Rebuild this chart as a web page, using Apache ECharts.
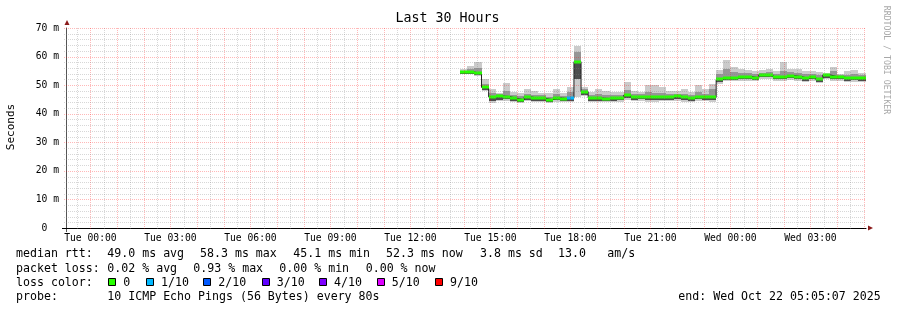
<!DOCTYPE html>
<html><head><meta charset="utf-8">
<script src="https://cdn.jsdelivr.net/npm/echarts@6/dist/echarts.min.js"></script>
<style>html,body{margin:0;padding:0;background:#fff}#c{width:897px;height:310px}</style>
</head><body><div id="c"></div>
<script>
// ---- time frame (hours relative to Tue 00:00) ----
const axisStart = -(54 + 53 / 60) / 60;      // Mon 23:05:07
const axisEnd = 29 + 5 / 60 + 7 / 3600;      // Wed 05:05:07
const firstSlot = 13 + 52 / 60;              // Tue 13:52, first data step
const slotHours = 16 / 60;                   // 960 s RRD step

// ---- data (ms) ----
const medianRtt = [54.6,54.6,54.1,49.2,45.9,46.2,46.0,45.4,44.9,45.9, 45.4,45.4,44.9,45.6,45.3,45.4,58.2,47.7,45.5,45.5, 45.3,45.4,45.6,46.5,45.7,46.0,45.7,45.7,45.7,45.7, 46.2,45.7,45.4,45.9,45.7,45.7,52.0,52.6,52.6,53.0, 53.0,52.6,53.6,53.6,52.8,53.0,53.3,53.0,52.4,52.8, 52.0,53.6,53.0,52.8,52.4,52.6,52.4];
const smokeMax = [55.5,56.7,58.1,52.2,48.6,47.4,50.9,47.7,47.4,48.6, 47.9,47.4,47.2,48.6,47.2,49.5,63.8,49.5,47.5,48.5, 47.9,47.7,47.5,51.0,47.9,47.7,50.0,50.0,49.5,47.9, 48.0,48.5,47.7,50.0,48.5,50.4,55.3,58.8,56.2,55.6, 55.3,55.0,55.3,55.6,55.0,58.1,55.6,55.6,55.0,55.0, 54.5,54.2,56.2,54.0,54.8,55.3,54.2];
const smokeHiMid = [55.0,55.5,56.0,50.5,47.4,46.9,48.0,46.6,46.2,47.0, 46.6,46.4,46.0,47.0,46.3,47.5,61.5,48.5,46.5,47.0, 46.5,46.5,46.5,48.3,46.8,46.8,47.5,47.3,47.2,46.8, 47.0,47.0,46.5,47.5,47.0,48.5,53.8,55.5,54.5,54.3, 54.2,54.0,54.4,54.6,54.0,55.0,54.5,54.3,53.8,54.0, 53.5,54.0,54.8,53.6,53.6,54.0,53.5];
const smokeLoMid = [54.0,54.0,53.4,48.4,44.5,44.9,45.0,44.6,44.2,44.8, 44.6,44.6,44.1,44.7,44.5,44.6,52.0,46.6,44.6,44.6, 44.4,44.5,44.7,45.4,44.8,45.0,44.8,44.8,44.8,44.8, 45.2,44.8,44.5,45.0,44.8,44.8,51.0,51.8,51.8,52.2, 52.2,51.8,52.8,52.8,52.0,52.2,52.5,52.2,51.6,52.0, 51.2,52.6,52.2,52.0,51.6,51.8,51.6];
const smokeMin = [53.8,53.8,53.1,47.8,43.9,44.4,44.5,44.1,43.8,44.3, 44.1,44.1,43.7,44.2,44.1,44.1,46.0,46.1,44.1,44.1, 44.0,44.1,44.2,44.8,44.3,44.5,44.2,44.2,44.3,44.3, 44.6,44.2,44.0,44.4,44.3,44.1,50.3,51.3,51.3,51.6, 51.6,51.3,52.2,52.2,51.4,51.6,51.8,51.6,51.0,51.4, 50.6,52.0,51.6,51.4,51.0,51.2,51.0];
const lossTenths = [0,0,0,0,0,0,0,0,0,0, 0,0,0,0,0,1,0,0,0,0, 0,0,0,0,0,0,0,0,0,0, 0,0,0,0,0,0,0,0,0,0, 0,0,0,0,0,0,0,0,0,0, 0,0,0,0,0,0,0];

// ---- ticks / labels ----
const xTickHours = [0, 3, 6, 9, 12, 15, 18, 21, 24, 27];
const xTickLabels = ['Tue 00:00','Tue 03:00','Tue 06:00','Tue 09:00','Tue 12:00','Tue 15:00','Tue 18:00','Tue 21:00','Wed 00:00','Wed 03:00'];
const yTickLabels = ['0  ','10 m','20 m','30 m','40 m','50 m','60 m','70 m'];
const lossLegendLabels = ['0','1/10','2/10','3/10','4/10','5/10','9/10'];
const lossLegendColors = ['#26ff00','#00b8ff','#0059ff','#5e00ff','#7e00ff','#dd00ff','#ff0000'];
const lossColorByTenths = {0:'#26ff00',1:'#00b8ff',2:'#0059ff',3:'#5e00ff',4:'#7e00ff',5:'#dd00ff',9:'#ff0000'};

const titleText = 'Last 30 Hours';
const yAxisTitle = 'Seconds';
const watermark = 'RRDTOOL / TOBI OETIKER';
const line1 = ['median rtt:','49.0 ms avg','58.3 ms max','45.1 ms min','52.3 ms now','3.8 ms sd','13.0','am/s'];
const line2 = ['packet loss:','0.02 % avg','0.93 % max','0.00 % min','0.00 % now'];
const line4 = ['probe:','10 ICMP Echo Pings (56 Bytes) every 80s'];
const endText = 'end: Wed Oct 22 05:05:07 2025';

// ---- build series data ----
const smokeData = medianRtt.map((m, i) => [firstSlot + i * slotHours, firstSlot + (i + 1) * slotHours,
  smokeMin[i], smokeLoMid[i], m, smokeHiMid[i], smokeMax[i], lossTenths[i]]);
const stepData = medianRtt.map((m, i) => [firstSlot + i * slotHours, m]);
stepData.push([firstSlot + medianRtt.length * slotHours, medianRtt[medianRtt.length - 1]]);

const vGrid = [];
for (let h = Math.ceil(axisStart * 2) / 2; h <= axisEnd; h += 0.5) vGrid.push([h, 0]);
const hGrid = [];
for (let v = 2; v <= 70; v += 2) hGrid.push([axisStart, v]);

const FONT = "'DejaVu Sans Mono', monospace";
const RED = 'rgba(255,0,0,0.28)';
const GREY = 'rgba(130,130,130,0.32)';

function smokeItem(params, api) {
  const t0 = api.value(0), t1 = api.value(1);
  const xs = Math.round(api.coord([t0, 0])[0]), xe = Math.round(api.coord([t1, 0])[0]);
  const py = v => Math.round(api.coord([t0, v])[1]);
  const band = (lo, hi, fill) => ({ type: 'rect', shape: { x: xs, y: py(hi), width: xe - xs, height: py(lo) - py(hi) }, style: { fill } });
  return { type: 'group', children: [
    band(api.value(2), api.value(6), '#cbcbcb'),
    band(api.value(3), api.value(5), '#969696'),
    band(api.value(3), api.value(4), '#4e4e4e')
  ] };
}
function medianItem(params, api) {
  const t0 = api.value(0), t1 = api.value(1);
  const xs = Math.round(api.coord([t0, 0])[0]), xe = Math.round(api.coord([t1, 0])[0]);
  const y = Math.round(api.coord([t0, api.value(4)])[1]);
  return { type: 'rect', shape: { x: xs, y: y - 1.5, width: xe - xs, height: 3 }, style: { fill: lossColorByTenths[api.value(7)] } };
}
function vGridItem(params, api) {
  const cs = params.coordSys;
  const h = api.value(0);
  const x = Math.round(api.coord([h, 0])[0]) + 0.5;
  const major = Math.abs(h - Math.round(h)) < 1e-6;
  return { type: 'line', shape: { x1: x, y1: cs.y, x2: x, y2: cs.y + cs.height + 2 }, style: { stroke: major ? RED : GREY, lineWidth: 1, lineDash: [1, 1] } };
}
function hGridItem(params, api) {
  const cs = params.coordSys;
  const v = api.value(1);
  const y = Math.round(api.coord([0, v])[1]) + 0.5;
  const major = v % 10 === 0;
  return { type: 'line', shape: { x1: cs.x - 2, y1: y, x2: cs.x + cs.width, y2: y }, style: { stroke: major ? RED : GREY, lineWidth: 1, lineDash: [1, 1] } };
}

const graphic = [];
const txt = (text, x, y, opt = {}) => graphic.push({ type: 'text', x, y, rotation: opt.rotation || 0, silent: true,
  style: { text, font: (opt.size || 11.6) + 'px ' + FONT, fill: opt.color || '#000', align: opt.align || 'left', verticalAlign: 'middle' } });
txt(titleText, 447.5, 19, { size: 13.3, align: 'center' });
txt(yAxisTitle, 11, 127, { size: 11, align: 'center', rotation: Math.PI / 2 });
txt(watermark, 886, 60, { size: 8.2, align: 'center', rotation: -Math.PI / 2, color: '#a8a8a8' });
const l1x = [16, 107.3, 200, 293.3, 386, 480, 558, 607.3];
line1.forEach((s, i) => txt(s, l1x[i], 254));
const l2x = [16, 107.3, 193.3, 279.3, 365.7];
line2.forEach((s, i) => txt(s, l2x[i], 268.5));
txt('loss color:', 16, 282.5);
const boxX = [108.3, 146, 203.3, 261.7, 319, 376.7, 435];
lossLegendLabels.forEach((s, i) => {
  graphic.push({ type: 'rect', silent: true, shape: { x: Math.round(boxX[i]) + 0.5, y: 278.5, width: 7, height: 7 }, style: { fill: lossLegendColors[i], stroke: '#000', lineWidth: 1 } });
  txt(s, boxX[i] + 15, 282.5);
});
const l4x = [16, 107.3];
line4.forEach((s, i) => txt(s, l4x[i], 296.5));
txt(endText, 678.3, 296.5);
// axis extensions and arrows
graphic.push({ type: 'line', silent: true, shape: { x1: 62, y1: 228.5, x2: 67, y2: 228.5 }, style: { stroke: '#000', lineWidth: 1 } });
graphic.push({ type: 'line', silent: true, shape: { x1: 66.5, y1: 228, x2: 66.5, y2: 232 }, style: { stroke: '#555', lineWidth: 1 } });
graphic.push({ type: 'polygon', silent: true, shape: { points: [[64.5, 25], [69.5, 25], [67, 20]] }, style: { fill: '#8b1a1a' } });
graphic.push({ type: 'polygon', silent: true, shape: { points: [[868, 225.5], [868, 230.5], [873, 228]] }, style: { fill: '#8b1a1a' } });

const chart = echarts.init(document.getElementById('c'), null, { renderer: 'canvas' });
chart.setOption({
  animation: false,
  backgroundColor: '#fff',
  grid: { left: 66, right: 31, top: 28, bottom: 82, containLabel: false, outerBoundsMode: 'none' },
  xAxis: {
    type: 'value', min: axisStart, max: axisEnd,
    axisLine: { show: true, lineStyle: { color: '#000', width: 1 } },
    axisTick: { show: false },
    splitLine: { show: false },
    axisLabel: {
      customValues: xTickHours,
      formatter: v => { const k = xTickHours.findIndex(h => Math.abs(h - v) < 1e-6); return k >= 0 ? xTickLabels[k] : ''; },
      fontFamily: FONT, fontSize: 9.7, color: '#000', margin: 5
    }
  },
  yAxis: {
    type: 'value', min: 0, max: 70, interval: 10,
    axisLine: { show: true, onZero: false, lineStyle: { color: '#555', width: 1 } },
    axisTick: { show: false },
    splitLine: { show: false },
    axisLabel: { formatter: v => yTickLabels[Math.round(v / 10)], fontFamily: FONT, fontSize: 9.7, color: '#000', margin: 7, align: 'right' }
  },
  series: [
    { type: 'custom', name: 'smoke', renderItem: smokeItem, data: smokeData, encode: { x: [0, 1], y: [2, 6] }, z: 2, silent: true, clip: true },
    { type: 'line', name: 'median', data: stepData, step: 'end', showSymbol: false, symbol: 'none', lineStyle: { color: '#202020', width: 1 }, z: 3, silent: true },
    { type: 'custom', name: 'medianLoss', renderItem: medianItem, data: smokeData, encode: { x: [0, 1], y: 4 }, z: 4, silent: true },
    { type: 'custom', name: 'vgrid', renderItem: vGridItem, data: vGrid, encode: { x: 0, y: 1 }, z: 5, silent: true },
    { type: 'custom', name: 'hgrid', renderItem: hGridItem, data: hGrid, encode: { x: 0, y: 1 }, z: 5, silent: true }
  ],
  graphic: graphic
});
</script></body></html>
